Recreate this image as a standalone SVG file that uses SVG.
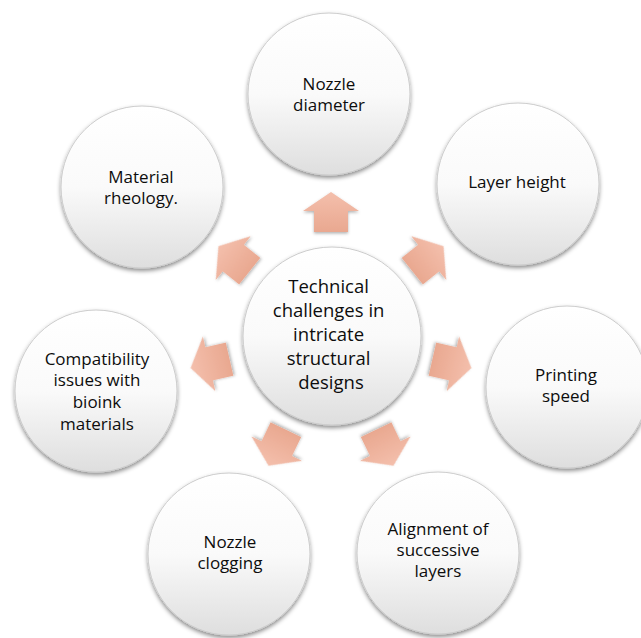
<svg xmlns="http://www.w3.org/2000/svg" width="641" height="638" viewBox="0 0 641 638">
  <defs>
    <linearGradient id="discFill" x1="0" y1="0" x2="0" y2="1">
      <stop offset="0" stop-color="#ffffff"/>
      <stop offset="0.5" stop-color="#fafafa"/>
      <stop offset="1" stop-color="#dedede"/>
    </linearGradient>
    <linearGradient id="arrowFill" x1="0" y1="0" x2="0" y2="1">
      <stop offset="0" stop-color="#f4bfac"/>
      <stop offset="1" stop-color="#e9a890"/>
    </linearGradient>
    <filter id="discShadow" x="-20%" y="-20%" width="140%" height="140%">
      <feDropShadow dx="0" dy="2.5" stdDeviation="2.2" flood-color="#000" flood-opacity="0.45"/>
    </filter>
    <filter id="arrowShadow" x="-30%" y="-30%" width="160%" height="160%">
      <feDropShadow dx="0" dy="1.5" stdDeviation="1.5" flood-color="#000" flood-opacity="0.3"/>
    </filter>
    <!-- block arrow pointing up, centred on the origin -->
    <polygon id="blockArrow" points="0,-20 28,-1 17,-1 17,20 -17,20 -17,-1 -28,-1"/>
  </defs>
  <style>
    .disc { fill: url(#discFill); stroke: #cccccc; stroke-width: 1; filter: url(#discShadow); }
    .arrow { fill: url(#arrowFill); filter: url(#arrowShadow); }
    .label { font-family: "Open Sans", "Liberation Sans", sans-serif; font-size: 17px; fill: #0d0d0d; text-anchor: middle; }
    .hub { font-size: 18.5px; }
  </style>

  <rect width="641" height="638" fill="#ffffff"/>

  <g id="connectors">
    <use href="#blockArrow" class="arrow" transform="translate(331,212) rotate(0)"/>
    <use href="#blockArrow" class="arrow" transform="translate(427.9,258.7) rotate(51.43)"/>
    <use href="#blockArrow" class="arrow" transform="translate(451.9,363.6) rotate(102.86)"/>
    <use href="#blockArrow" class="arrow" transform="translate(384.8,447.7) rotate(154.29)"/>
    <use href="#blockArrow" class="arrow" transform="translate(277.2,447.7) rotate(205.71)"/>
    <use href="#blockArrow" class="arrow" transform="translate(210.1,363.6) rotate(257.14)"/>
    <use href="#blockArrow" class="arrow" transform="translate(234.1,258.7) rotate(308.57)"/>
  </g>

  <g id="hub">
    <circle class="disc" cx="332" cy="336" r="89"/>
    <text class="label hub" x="331">
      <tspan x="331" y="293">Technical</tspan>
      <tspan x="331" y="317">challenges in</tspan>
      <tspan x="331" y="341">intricate</tspan>
      <tspan x="331" y="365">structural</tspan>
      <tspan x="331" y="389">designs</tspan>
    </text>
  </g>

  <g id="nozzle-diameter">
    <circle class="disc" cx="329" cy="94" r="81"/>
    <text class="label"><tspan x="329" y="90">Nozzle</tspan><tspan x="329" y="111">diameter</tspan></text>
  </g>

  <g id="layer-height">
    <circle class="disc" cx="518" cy="184" r="81"/>
    <text class="label" x="517" y="188">Layer height</text>
  </g>

  <g id="printing-speed">
    <circle class="disc" cx="567" cy="387" r="81"/>
    <text class="label"><tspan x="566" y="381">Printing</tspan><tspan x="566" y="402">speed</tspan></text>
  </g>

  <g id="layer-alignment">
    <circle class="disc" cx="438" cy="553" r="81"/>
    <text class="label"><tspan x="438" y="535">Alignment of</tspan><tspan x="438" y="556">successive</tspan><tspan x="438" y="577">layers</tspan></text>
  </g>

  <g id="nozzle-clogging">
    <circle class="disc" cx="229" cy="554" r="81"/>
    <text class="label"><tspan x="230" y="548">Nozzle</tspan><tspan x="230" y="569">clogging</tspan></text>
  </g>

  <g id="bioink-compatibility">
    <circle class="disc" cx="96" cy="391" r="81"/>
    <text class="label"><tspan x="97" y="365">Compatibility</tspan><tspan x="97" y="386">issues with</tspan><tspan x="97" y="408">bioink</tspan><tspan x="97" y="430">materials</tspan></text>
  </g>

  <g id="material-rheology">
    <circle class="disc" cx="142" cy="187" r="81"/>
    <text class="label"><tspan x="141" y="183">Material</tspan><tspan x="141" y="204">rheology.</tspan></text>
  </g>
</svg>
